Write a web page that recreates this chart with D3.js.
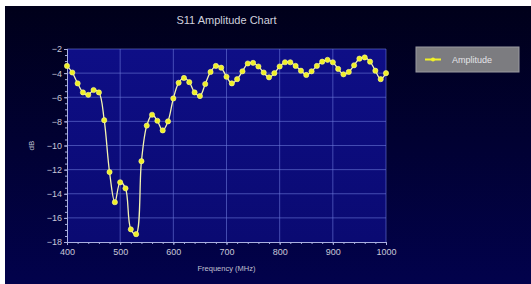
<!DOCTYPE html>
<html>
<head>
<meta charset="utf-8">
<script src="https://cdn.jsdelivr.net/npm/d3@7"></script>
<style>
  body { margin: 0; background: #fff; }
  svg { display: block; font-family: "Liberation Sans", Arial, sans-serif; }
</style>
</head>
<body>
<svg id="chart"></svg>
<script>
var freqs = [400, 410, 420, 430, 440, 450, 460, 470, 480, 490,
  500, 510, 520, 530, 540, 550, 560, 570, 580, 590,
  600, 610, 620, 630, 640, 650, 660, 670, 680, 690,
  700, 710, 720, 730, 740, 750, 760, 770, 780, 790,
  800, 810, 820, 830, 840, 850, 860, 870, 880, 890,
  900, 910, 920, 930, 940, 950, 960, 970, 980, 990, 1000];
var amplitude = [-3.4, -3.95, -4.85, -5.6, -5.8, -5.4, -5.6, -7.9, -12.2, -14.7,
  -13.05, -13.55, -16.95, -17.35, -11.3, -8.35, -7.45, -7.95, -8.75, -8.0,
  -6.1, -4.8, -4.4, -4.75, -5.6, -5.9, -4.9, -3.9, -3.4, -3.55,
  -4.3, -4.85, -4.5, -3.85, -3.2, -3.15, -3.45, -3.95, -4.35, -4.0,
  -3.45, -3.1, -3.1, -3.4, -3.8, -4.15, -3.85, -3.4, -3.05, -2.9,
  -3.1, -3.65, -4.1, -3.9, -3.35, -2.8, -2.7, -3.05, -3.8, -4.5, -4.0];
var xTicks = [400, 500, 600, 700, 800, 900, 1000];
var yTicks = [-2, -4, -6, -8, -10, -12, -14, -16, -18];

var W = 531, H = 284;
var plot = { left: 67, right: 386, top: 49, bottom: 242 };

var svg = d3.select("#chart").attr("width", W).attr("height", H);
var defs = svg.append("defs");

var bg = defs.append("linearGradient").attr("id", "bg")
  .attr("x1", 0).attr("y1", 0).attr("x2", 0).attr("y2", 1);
bg.append("stop").attr("offset", "0%").attr("stop-color", "#00001a");
bg.append("stop").attr("offset", "100%").attr("stop-color", "#02024c");

var pg = defs.append("linearGradient").attr("id", "pg")
  .attr("x1", 0).attr("y1", 0).attr("x2", 0).attr("y2", 1);
pg.append("stop").attr("offset", "0%").attr("stop-color", "#0e0e86");
pg.append("stop").attr("offset", "100%").attr("stop-color", "#0a0a72");

svg.append("rect").attr("x", 0).attr("y", 0).attr("width", W).attr("height", H).attr("fill", "#fff");
svg.append("rect").attr("x", 5).attr("y", 6).attr("width", W - 5).attr("height", H - 6).attr("fill", "url(#bg)");

var x = d3.scaleLinear().domain([400, 1000]).range([plot.left, plot.right]);
var y = d3.scaleLinear().domain([-18, -2]).range([plot.bottom, plot.top]);

svg.append("rect")
  .attr("x", plot.left).attr("y", plot.top)
  .attr("width", plot.right - plot.left).attr("height", plot.bottom - plot.top)
  .attr("fill", "url(#pg)");

// grid
var grid = svg.append("g");
grid.selectAll(".vg").data(xTicks.slice(1)).enter().append("line")
  .attr("x1", d => x(d)).attr("x2", d => x(d))
  .attr("y1", plot.top).attr("y2", plot.bottom)
  .attr("stroke", "#6a78d8").attr("stroke-opacity", 0.6).attr("stroke-width", 1);
grid.selectAll(".hg").data(yTicks.slice(0, -1)).enter().append("line")
  .attr("x1", plot.left).attr("x2", plot.right)
  .attr("y1", d => y(d)).attr("y2", d => y(d))
  .attr("stroke", "#6a78d8").attr("stroke-opacity", 0.6).attr("stroke-width", 1);

// axes
var xAxis = svg.append("g")
  .attr("transform", `translate(0, ${plot.bottom})`)
  .call(d3.axisBottom(x).tickValues(xTicks).tickSize(3).tickPadding(4).tickFormat(d3.format("d")));
svg.append("g")
  .attr("transform", `translate(0, ${plot.bottom})`)
  .call(d3.axisBottom(x).ticks(24).tickSize(2).tickFormat(""));

var yAxis = svg.append("g")
  .attr("transform", `translate(${plot.left}, 0)`)
  .call(d3.axisLeft(y).tickValues(yTicks).tickSize(3).tickPadding(2));
svg.append("g")
  .attr("transform", `translate(${plot.left}, 0)`)
  .call(d3.axisLeft(y).ticks(32).tickSize(2).tickFormat(""));

svg.selectAll(".domain").attr("stroke", "#aab0e0");
svg.selectAll(".tick line").attr("stroke", "#aab0e0");
svg.selectAll(".tick text").attr("fill", "#c8c8d8").style("font-size", "9px")
  .style("font-family", "'Liberation Sans', Arial, sans-serif");

// line
var line = d3.line()
  .x((d, i) => x(freqs[i]))
  .y(d => y(d))
  .curve(d3.curveCatmullRom);

svg.append("path")
  .datum(amplitude)
  .attr("d", line)
  .attr("fill", "none")
  .attr("stroke", "#f4f4b0")
  .attr("stroke-width", 1.3);

svg.append("g").selectAll("circle")
  .data(amplitude).enter().append("circle")
  .attr("cx", (d, i) => x(freqs[i]))
  .attr("cy", d => y(d))
  .attr("r", 2.6)
  .attr("fill", "#f0f028")
  .attr("stroke", "#fbfb9a")
  .attr("stroke-width", 0.6);

// texts
svg.append("text")
  .attr("x", (plot.left + plot.right) / 2).attr("y", 24)
  .attr("text-anchor", "middle")
  .attr("fill", "#d0d0dc").style("font-size", "11px")
  .text("S11 Amplitude Chart");

svg.append("text")
  .attr("x", (plot.left + plot.right) / 2).attr("y", 271)
  .attr("text-anchor", "middle")
  .attr("fill", "#c0c0d0").style("font-size", "7.5px")
  .text("Frequency (MHz)");

svg.append("text")
  .attr("transform", `translate(34, ${(plot.top + plot.bottom) / 2}) rotate(-90)`)
  .attr("text-anchor", "middle")
  .attr("fill", "#c0c0d0").style("font-size", "8px")
  .text("dB");

// legend
var legend = svg.append("g").attr("transform", "translate(416, 47)");
legend.append("rect")
  .attr("width", 103).attr("height", 25)
  .attr("fill", "#7c7c80").attr("stroke", "#9a9aa0").attr("stroke-width", 1);
legend.append("line")
  .attr("x1", 9).attr("x2", 25).attr("y1", 12.5).attr("y2", 12.5)
  .attr("stroke", "#f0f028").attr("stroke-width", 2);
legend.append("circle").attr("cx", 17).attr("cy", 12.5).attr("r", 2)
  .attr("fill", "#f0f028");
legend.append("text")
  .attr("x", 36).attr("y", 16)
  .attr("fill", "#e4e4e8").style("font-size", "9px")
  .text("Amplitude");
</script>
</body>
</html>
